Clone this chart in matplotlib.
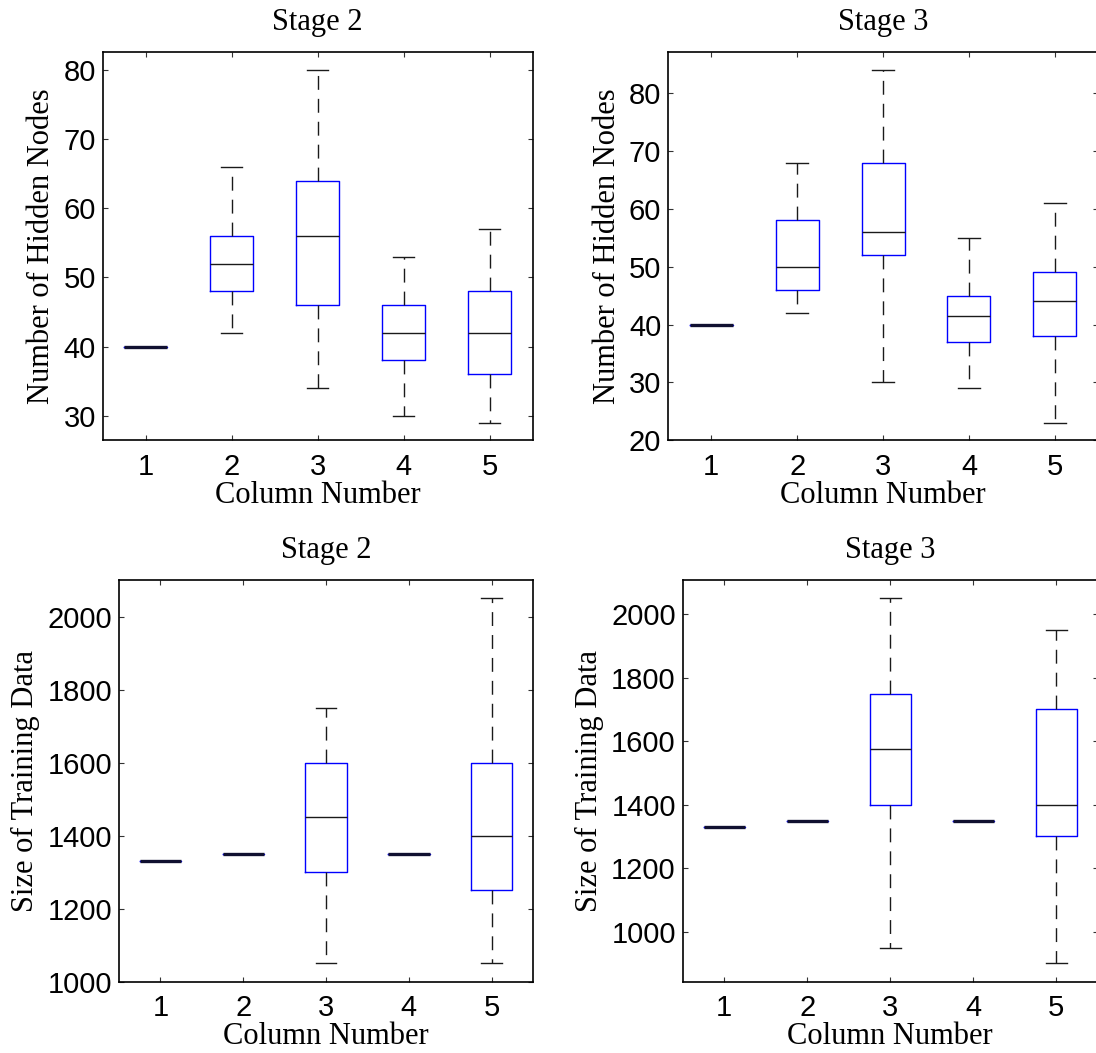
import matplotlib
matplotlib.use("Agg")
import matplotlib.pyplot as plt

# box statistics: (whisker low, q1, median, q3, whisker high)
columns = [1, 2, 3, 4, 5]

nodes_stage2 = [
    (40, 40, 40, 40, 40),
    (42, 48, 52, 56, 66),
    (34, 46, 56, 64, 80),
    (30, 38, 42, 46, 53),
    (29, 36, 42, 48, 57),
]
nodes_stage3 = [
    (40, 40, 40, 40, 40),
    (42, 46, 50, 58, 68),
    (30, 52, 56, 68, 84),
    (29, 37, 41.5, 45, 55),
    (23, 38, 44, 49, 61),
]
train_stage2 = [
    (1330, 1330, 1330, 1330, 1330),
    (1350, 1350, 1350, 1350, 1350),
    (1050, 1300, 1450, 1600, 1750),
    (1350, 1350, 1350, 1350, 1350),
    (1050, 1250, 1400, 1600, 2050),
]
train_stage3 = [
    (1330, 1330, 1330, 1330, 1330),
    (1350, 1350, 1350, 1350, 1350),
    (950, 1400, 1575, 1750, 2050),
    (1350, 1350, 1350, 1350, 1350),
    (900, 1300, 1400, 1700, 1950),
]

W, H = 1096, 1053
fig = plt.figure(figsize=(W / 100, H / 100), dpi=100)

SERIF = "Liberation Serif"
SANS = "Liberation Sans"


def make_axes(x0, y0, x1, y1):
    # pixel box (top-left origin) -> figure fraction
    return fig.add_axes([x0 / W, 1 - y1 / H, (x1 - x0) / W, (y1 - y0) / H])


def draw_panel(ax, data, title, ylabel, ylim, yticks, ylabelpad):
    stats = []
    for lo, q1, med, q3, hi in data:
        stats.append(dict(whislo=lo, q1=q1, med=med, q3=q3, whishi=hi, fliers=[]))
    parts = ax.bxp(stats, positions=columns, widths=0.5, capwidths=0.25,
                   showfliers=False, manage_ticks=False,
                   boxprops=dict(color="#0000ff", linewidth=1.0),
                   medianprops=dict(color="#1a1a1a", linewidth=1.0),
                   whiskerprops=dict(color="#1a1a1a", linewidth=1.0,
                                     linestyle=(0, (10, 6.5))),
                   capprops=dict(color="#1a1a1a", linewidth=1.0))
    # collapsed boxes (all values equal) show up as a heavy dark bar
    for st, med in zip(stats, parts["medians"]):
        if st["q1"] == st["q3"]:
            med.set_linewidth(2.4)
            med.set_color("#101030")
    ax.set_xlim(0.5, 5.5)
    ax.set_ylim(*ylim)
    ax.set_xticks(columns)
    ax.set_yticks(yticks)
    ax.tick_params(direction="in", length=3.3, width=0.8, top=True, right=True,
                   labelsize=21, color="#333333")
    ax.tick_params(axis="x", pad=9)
    ax.tick_params(axis="y", pad=5)
    for lab in ax.get_xticklabels() + ax.get_yticklabels():
        lab.set_family(SANS)
    for sp in ax.spines.values():
        sp.set_linewidth(1.2)
    ax.set_title(title, family=SERIF, fontsize=22, pad=16)
    ax.set_xlabel("Column Number", family=SERIF, fontsize=22, labelpad=0)
    ax.set_ylabel(ylabel, family=SERIF, fontsize=22, labelpad=ylabelpad)


ax1 = make_axes(102.7, 52.3, 532.7, 440.3)
draw_panel(ax1, nodes_stage2, "Stage 2", "Number of Hidden Nodes",
           (26.45, 82.55), [30, 40, 50, 60, 70, 80], 5)

ax2 = make_axes(668.3, 52.3, 1097.8, 440.3)
draw_panel(ax2, nodes_stage3, "Stage 3", "Number of Hidden Nodes",
           (20, 87.05), [20, 30, 40, 50, 60, 70, 80], 5)

ax3 = make_axes(119, 580, 533, 981.7)
draw_panel(ax3, train_stage2, "Stage 2", "Size of Training Data",
           (1000, 2100), [1000, 1200, 1400, 1600, 1800, 2000], 5)

ax4 = make_axes(682.8, 580, 1097.8, 981.7)
draw_panel(ax4, train_stage3, "Stage 3", "Size of Training Data",
           (842.5, 2107.5), [1000, 1200, 1400, 1600, 1800, 2000], 5)

fig.savefig("out.png", dpi=100, facecolor="white")
